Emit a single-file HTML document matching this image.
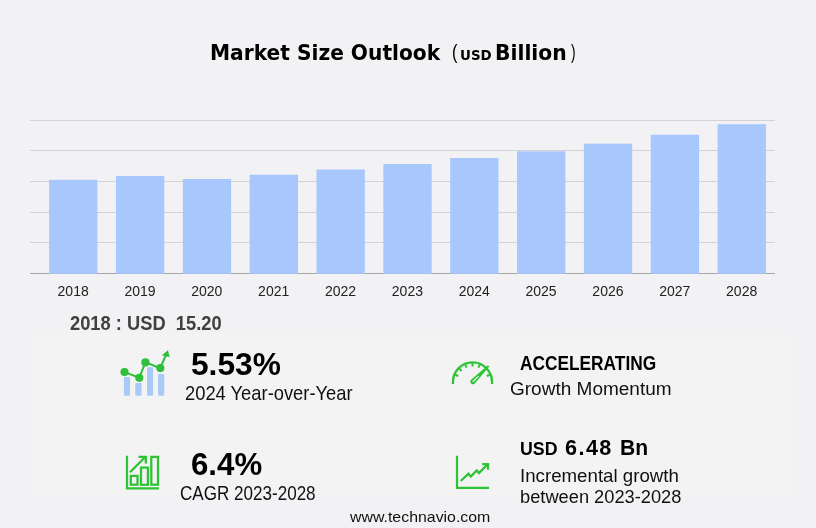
<!DOCTYPE html>
<html lang="en">
<head>
<meta charset="utf-8">
<title>Market Size Outlook (USD Billion)</title>
<style>
html,body{margin:0;padding:0}
body{width:816px;height:528px;background:#f2f2f5;position:relative;overflow:hidden;font-family:"Liberation Sans",sans-serif}
.chart{position:absolute;left:0;top:0}
.panel{position:absolute;left:30px;top:334px;width:762px;height:162px;background:#f3f3f4}
.t{position:absolute;white-space:pre;line-height:1;transform-origin:0 0}
.yl{position:absolute;top:283.4px;width:60px;text-align:center;font-size:14px;line-height:16px;color:#222;font-family:"Liberation Sans",sans-serif}
.ico{position:absolute;left:0;top:0;overflow:visible}
</style>
</head>
<body>
<div class="panel"></div>
<svg class="chart" width="816" height="310" viewBox="0 0 816 310">
<rect x="30" y="120" width="745" height="1" fill="#d3d3d6"/>
<rect x="30" y="150" width="745" height="1" fill="#d3d3d6"/>
<rect x="30" y="181" width="745" height="1" fill="#d3d3d6"/>
<rect x="30" y="212" width="745" height="1" fill="#d3d3d6"/>
<rect x="30" y="242" width="745" height="1" fill="#d3d3d6"/>
<rect x="30" y="273" width="745" height="1" fill="#a6a6a6"/>
<rect x="49.1" y="179.8" width="48.3" height="94.0" fill="#a7c7fd"/>
<rect x="115.95" y="176" width="48.3" height="97.8" fill="#a7c7fd"/>
<rect x="182.8" y="179" width="48.3" height="94.8" fill="#a7c7fd"/>
<rect x="249.65" y="174.7" width="48.3" height="99.1" fill="#a7c7fd"/>
<rect x="316.5" y="169.5" width="48.3" height="104.3" fill="#a7c7fd"/>
<rect x="383.35" y="164" width="48.3" height="109.8" fill="#a7c7fd"/>
<rect x="450.2" y="158" width="48.3" height="115.8" fill="#a7c7fd"/>
<rect x="517.05" y="151.3" width="48.3" height="122.5" fill="#a7c7fd"/>
<rect x="583.9" y="143.7" width="48.3" height="130.1" fill="#a7c7fd"/>
<rect x="650.75" y="134.7" width="48.3" height="139.1" fill="#a7c7fd"/>
<rect x="717.6" y="124.2" width="48.3" height="149.6" fill="#a7c7fd"/>
</svg>
<div class="yl" style="left:43.15px">2018</div>
<div class="yl" style="left:110.00px">2019</div>
<div class="yl" style="left:176.85px">2020</div>
<div class="yl" style="left:243.70px">2021</div>
<div class="yl" style="left:310.55px">2022</div>
<div class="yl" style="left:377.40px">2023</div>
<div class="yl" style="left:444.25px">2024</div>
<div class="yl" style="left:511.10px">2025</div>
<div class="yl" style="left:577.95px">2026</div>
<div class="yl" style="left:644.80px">2027</div>
<div class="yl" style="left:711.65px">2028</div>
<div class="t" style="left:210.00px;top:41.60px;font-family:'DejaVu Sans',sans-serif;font-weight:700;font-size:21.26px;color:#000;transform:scaleX(0.9500)">Market Size Outlook</div>
<div class="t" style="left:451.60px;top:42.40px;font-family:'Liberation Sans',sans-serif;font-weight:400;font-size:20.5px;color:#000;transform:scaleX(0.8000)">(</div>
<div class="t" style="left:460.00px;top:47.60px;font-family:'DejaVu Sans',sans-serif;font-weight:700;font-size:14.13px;color:#000;transform:scaleX(0.9508)">USD</div>
<div class="t" style="left:494.70px;top:41.60px;font-family:'DejaVu Sans',sans-serif;font-weight:700;font-size:21.81px;color:#000;transform:scaleX(0.9315)">Billion</div>
<div class="t" style="left:571.40px;top:42.40px;font-family:'Liberation Sans',sans-serif;font-weight:400;font-size:20.5px;color:#000;transform:scaleX(0.6667)">)</div>
<div class="t" style="left:69.90px;top:313.70px;font-family:'Liberation Sans',sans-serif;font-weight:700;font-size:19.97px;color:#404040;transform:scaleX(0.9171)">2018 : USD  15.20</div>
<div class="t" style="left:190.70px;top:348.00px;font-family:'Liberation Sans',sans-serif;font-weight:700;font-size:31.98px;color:#000;transform:scaleX(0.9911)">5.53%</div>
<div class="t" style="left:184.70px;top:383.80px;font-family:'Liberation Sans',sans-serif;font-weight:400;font-size:19.97px;color:#111;transform:scaleX(0.9193)">2024 Year-over-Year</div>
<div class="t" style="left:190.70px;top:448.20px;font-family:'Liberation Sans',sans-serif;font-weight:700;font-size:32.12px;color:#000;transform:scaleX(0.9719)">6.4%</div>
<div class="t" style="left:179.80px;top:484.00px;font-family:'Liberation Sans',sans-serif;font-weight:400;font-size:19.83px;color:#111;transform:scaleX(0.8603)">CAGR 2023-2028</div>
<div class="t" style="left:520.00px;top:354.00px;font-family:'Liberation Sans',sans-serif;font-weight:700;font-size:19.41px;color:#000;transform:scaleX(0.8914)">ACCELERATING</div>
<div class="t" style="left:509.60px;top:378.70px;font-family:'Liberation Sans',sans-serif;font-weight:400;font-size:18.99px;color:#111;transform:scaleX(1.0013)">Growth Momentum</div>
<div class="t" style="left:519.70px;top:439.50px;font-family:'Liberation Sans',sans-serif;font-weight:700;font-size:18.85px;color:#000;transform:scaleX(0.9424)">USD</div>
<div class="t" style="left:564.50px;top:436.50px;font-family:'Liberation Sans',sans-serif;font-weight:700;font-size:22.35px;letter-spacing:1.5px;color:#000;transform:scaleX(0.9655)">6.48</div>
<div class="t" style="left:619.70px;top:436.50px;font-family:'Liberation Sans',sans-serif;font-weight:700;font-size:22.35px;color:#000;transform:scaleX(0.9443)">Bn</div>
<div class="t" style="left:519.60px;top:465.80px;font-family:'Liberation Sans',sans-serif;font-weight:400;font-size:19.27px;color:#111;transform:scaleX(0.9702)">Incremental growth</div>
<div class="t" style="left:519.60px;top:488.10px;font-family:'Liberation Sans',sans-serif;font-weight:400;font-size:18.3px;color:#111;transform:scaleX(0.9988)">between 2023-2028</div>
<div class="t" style="left:350.20px;top:509.50px;font-family:'Liberation Sans',sans-serif;font-weight:400;font-size:14.2px;color:#111;transform:scaleX(1.1194)">www.technavio.com</div>
<svg class="ico" width="816" height="528" viewBox="0 0 816 528">
<!-- icon 1: bars with trend line -->
<g>
<rect x="123.9" y="377" width="6.1" height="18.8" rx="1" fill="#a9c9f9"/>
<rect x="135.3" y="383" width="6.3" height="12.8" rx="1" fill="#a9c9f9"/>
<rect x="147" y="367.3" width="6.1" height="28.5" rx="1" fill="#a9c9f9"/>
<rect x="158.1" y="374" width="6.1" height="21.8" rx="1" fill="#a9c9f9"/>
<polyline points="124.5,372.1 139.3,377.8 145.4,362.4 160.3,368.1 166.5,353.5" fill="none" stroke="#2fbf3a" stroke-width="2"/>
<circle cx="124.5" cy="372.1" r="4.1" fill="#2fbf3a"/>
<circle cx="139.3" cy="377.8" r="4.1" fill="#2fbf3a"/>
<circle cx="145.4" cy="362.4" r="4.1" fill="#2fbf3a"/>
<circle cx="160.3" cy="368.1" r="4.1" fill="#2fbf3a"/>
<polygon points="168,350.3 161.9,355.2 169.6,357.2" fill="#2fbf3a"/>
</g>
<!-- icon 2: gauge -->
<g>
<path d="M452.95 383.9 V381.9 A19.55 19.55 0 0 1 492.05 381.9 V383.9" fill="none" stroke="#2dc334" stroke-width="2.3"/>
<line x1="455.13" y1="374.71" x2="458.27" y2="376.01" stroke="#2dc334" stroke-width="2"/>
<line x1="459.21" y1="368.61" x2="461.61" y2="371.01" stroke="#2dc334" stroke-width="2"/>
<line x1="465.31" y1="364.53" x2="466.61" y2="367.67" stroke="#2dc334" stroke-width="2"/>
<line x1="472.50" y1="363.10" x2="472.50" y2="366.50" stroke="#2dc334" stroke-width="2"/>
<line x1="479.69" y1="364.53" x2="478.39" y2="367.67" stroke="#2dc334" stroke-width="2"/>
<line x1="489.87" y1="374.71" x2="486.73" y2="376.01" stroke="#2dc334" stroke-width="2"/>
<path d="M474.74 383.44 L489.24 366.54 L487.96 365.26 L471.06 379.76 A2.6 2.6 0 0 0 474.74 383.44 Z" fill="#2dc334"/>
<line x1="473.04" y1="381.46" x2="478.20" y2="376.30" stroke="#f3f3f4" stroke-width="1.2" stroke-linecap="round"/>
</g>
<!-- icon 3: bar chart with arrow -->
<g fill="none" stroke="#2dc334" stroke-width="2.25">
<path d="M127 455.7 V488.3 H159"/>
<rect x="130.8" y="475.9" width="6.7" height="8.8"/>
<rect x="141" y="467.6" width="6.9" height="17.2"/>
<rect x="151.3" y="456.9" width="6.7" height="27.8"/>
<path d="M130 472.3 L145 457.3"/>
<path d="M138.5 456.8 H145.8 V463.5"/>
</g>
<!-- icon 4: line chart with arrow -->
<g fill="none" stroke="#2dc334" stroke-width="2.25">
<path d="M457 455.7 V487.8 H489"/>
<path d="M460.7 481 L468.5 473.7 L470.8 476.5 L476.7 470.4 L478.9 473 L487.6 464.4"/>
<path d="M482.2 464.2 H488 V469.7"/>
</g>
</svg>

</body>
</html>
